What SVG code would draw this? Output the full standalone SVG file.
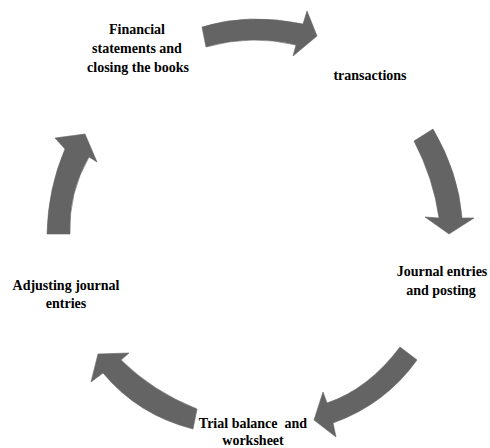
<svg xmlns="http://www.w3.org/2000/svg" width="490" height="448" viewBox="0 0 490 448">
<style>
.arrow{fill:#646464;stroke:#646464;stroke-width:0.6;stroke-linejoin:miter}
.lbl{font-family:"Liberation Serif","Times New Roman",serif;font-weight:bold;font-size:14px;fill:#000;text-anchor:middle;white-space:pre}
</style>
<rect width="490" height="448" fill="#fff"/>
<g id="connectors">
<path class="arrow" d="M202,27 Q247.5,12.5 303,24 L307,11 L317,36 L293,56 L296,45 Q251,34 206,47 Z"/>
<path class="arrow" d="M414,141 L433,129 Q458.5,172.5 462,218 L474,218 L449,234 L425,217 L439,218 Q433.5,178.5 414,141 Z"/>
<path class="arrow" d="M400,347 L417,360 Q385,404.5 333,423 L336,437 L314,420 L323,392 L327,403 Q368.5,389 400,347 Z"/>
<path class="arrow" d="M197,409 L193,429 Q138,415 103,373 L91,382 L98,354 L129,353 L121,360 Q153,391.5 197,409 Z"/>
<path class="arrow" d="M47,234 L70,234 Q68.5,192.5 89,157 L97,162 L85,134 L55,138 L65,149 Q48,188.5 47,234 Z"/>
</g>
<g id="node-financial">
<text class="lbl" x="137" y="34">Financial</text>
<text class="lbl" x="137" y="53">statements and</text>
<text class="lbl" x="138" y="72">closing the books</text>
</g>
<g id="node-transactions">
<text class="lbl" x="370" y="80">transactions</text>
</g>
<g id="node-journal">
<text class="lbl" x="442" y="276">Journal entries</text>
<text class="lbl" x="441" y="295">and posting</text>
</g>
<g id="node-trial">
<text class="lbl" x="253" y="428" xml:space="preserve">Trial balance  and</text>
<text class="lbl" x="253" y="445">worksheet</text>
</g>
<g id="node-adjusting">
<text class="lbl" x="66" y="290">Adjusting journal</text>
<text class="lbl" x="66" y="308">entries</text>
</g>
</svg>
